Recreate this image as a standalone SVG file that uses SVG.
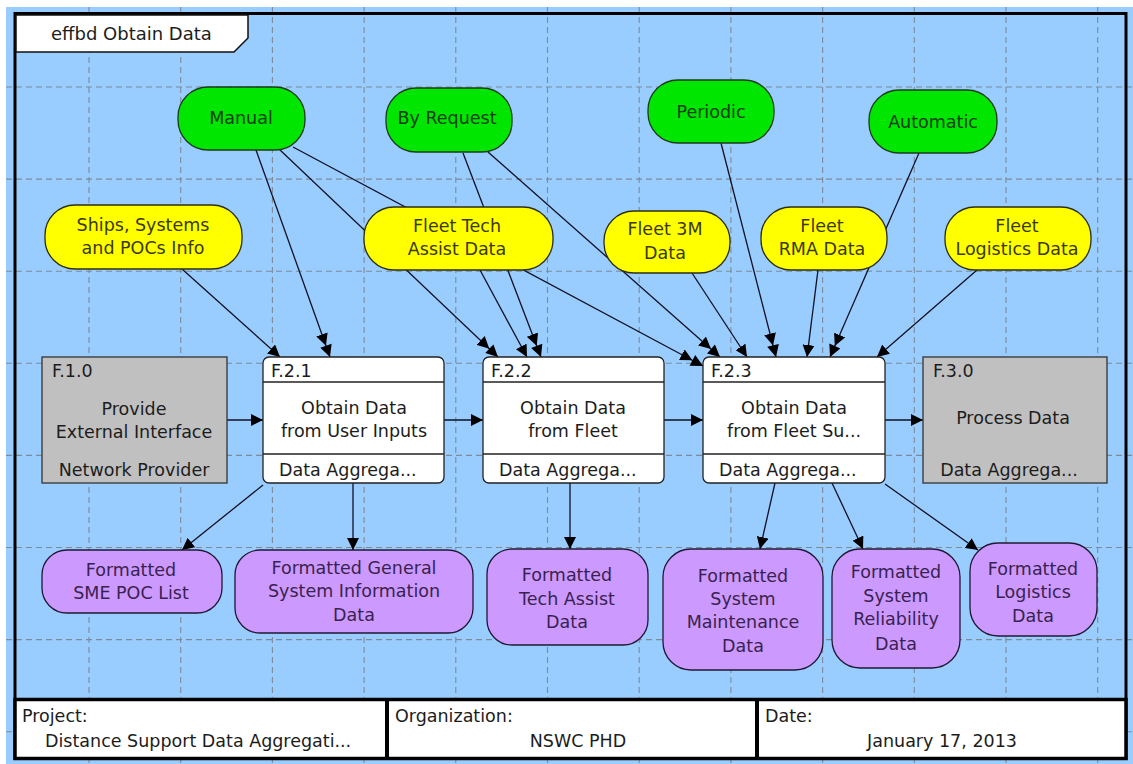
<svg xmlns="http://www.w3.org/2000/svg" width="1133" height="764" viewBox="0 0 1133 764">
  <style>
    .t { font-family: "DejaVu Sans", Verdana, sans-serif; font-size: 17.5px; }
    .c { text-anchor: middle; }
    .grid line { stroke: #7e8a98; stroke-width: 1.1; stroke-dasharray: 6 4; }
    .conn path { fill: none; stroke: #111122; stroke-width: 1.3; }
    .trig { marker-end: url(#dbl); }
    .flow { marker-end: url(#sgl); }
    .green rect { fill: #00e600; stroke: #1c3a1c; stroke-width: 1.3; }
    .green text { fill: #0b3d0b; }
    .yellow rect { fill: #ffff00; stroke: #2e2e10; stroke-width: 1.3; }
    .yellow text { fill: #3a3a00; }
    .purple rect { fill: #cc99ff; stroke: #221833; stroke-width: 1.3; }
    .purple text { fill: #3a2250; }
    .fn rect { fill: #ffffff; stroke: #222222; stroke-width: 1.3; }
    .fn line { stroke: #222222; stroke-width: 1.3; }
    .ext rect { fill: #c0c0c0; stroke: #333333; stroke-width: 1.3; }
    .fn text, .ext text, .cell text { fill: #1c1c1c; }
  </style>
  <defs>
    <marker id="sgl" viewBox="0 0 12 12" refX="12" refY="6" markerWidth="12" markerHeight="12" markerUnits="userSpaceOnUse" orient="auto">
      <path d="M0,0 L12,6 L0,12 Z" fill="#000000"/>
    </marker>
    <marker id="dbl" viewBox="0 0 24 12" refX="24" refY="6" markerWidth="24" markerHeight="12" markerUnits="userSpaceOnUse" orient="auto">
      <path d="M0,0 L12,6 L0,12 Z M12,0 L24,6 L12,12 Z" fill="#000000"/>
    </marker>
  </defs>

  <!-- page background -->
  <rect x="0" y="0" width="1133" height="764" fill="#ffffff"/>
  <rect x="6" y="7" width="1127" height="757" fill="#99ccff"/>

  <!-- layout grid -->
  <g class="grid">
    <line x1="89" y1="7" x2="89" y2="764"/>
    <line x1="180.7" y1="7" x2="180.7" y2="764"/>
    <line x1="272.4" y1="7" x2="272.4" y2="764"/>
    <line x1="364.1" y1="7" x2="364.1" y2="764"/>
    <line x1="455.8" y1="7" x2="455.8" y2="764"/>
    <line x1="547.5" y1="7" x2="547.5" y2="764"/>
    <line x1="639.2" y1="7" x2="639.2" y2="764"/>
    <line x1="730.9" y1="7" x2="730.9" y2="764"/>
    <line x1="822.6" y1="7" x2="822.6" y2="764"/>
    <line x1="914.3" y1="7" x2="914.3" y2="764"/>
    <line x1="1006" y1="7" x2="1006" y2="764"/>
    <line x1="1097.7" y1="7" x2="1097.7" y2="764"/>
    <line x1="6" y1="87" x2="1133" y2="87"/>
    <line x1="6" y1="179.1" x2="1133" y2="179.1"/>
    <line x1="6" y1="271.2" x2="1133" y2="271.2"/>
    <line x1="6" y1="363.3" x2="1133" y2="363.3"/>
    <line x1="6" y1="455.4" x2="1133" y2="455.4"/>
    <line x1="6" y1="547.5" x2="1133" y2="547.5"/>
    <line x1="6" y1="639.6" x2="1133" y2="639.6"/>
    <line x1="6" y1="731.7" x2="1133" y2="731.7"/>
  </g>

  <!-- diagram frame and title tab -->
  <rect x="15" y="13.5" width="1111" height="745" fill="none" stroke="#000000" stroke-width="3"/>
  <g id="title">
    <polygon points="16,15 248,15 248,38 234,52 16,52" fill="#ffffff" stroke="#111111" stroke-width="1.5"/>
    <text class="t" x="51" y="40" fill="#1c1c1c" style="font-size:18px">effbd Obtain Data</text>
  </g>

  <!-- connectors -->
  <g id="connectors" class="conn">
    <path class="flow" d="M227,420 L263,420"/>
    <path class="flow" d="M444,420 L483,420"/>
    <path class="flow" d="M664,420 L703,420"/>
    <path class="flow" d="M885,420 L923,420"/>
    <path class="flow" d="M182,269 L280,357"/>
    <path class="trig" d="M256,150 L330,357"/>
    <path class="trig" d="M279,149 L498,357"/>
    <path class="trig" d="M293,147 L703,366"/>
    <path class="trig" d="M463,153 L541,357"/>
    <path class="trig" d="M488,152 L720,357"/>
    <path class="flow" d="M480,270 L527,357"/>
    <path class="flow" d="M692,273 L747,357"/>
    <path class="trig" d="M721,143 L776,357"/>
    <path class="flow" d="M818,270 L807,357"/>
    <path class="trig" d="M919,153 L830,357"/>
    <path class="flow" d="M977,270 L877,357"/>
    <path class="flow" d="M263,485 L182,550"/>
    <path class="flow" d="M353,483 L353,550"/>
    <path class="flow" d="M570,483 L570,549"/>
    <path class="flow" d="M775,483 L760,549"/>
    <path class="flow" d="M832,483 L863,549"/>
    <path class="flow" d="M885,484 L978,550"/>
  </g>

  <!-- triggers -->
  <g id="manual" class="green">
    <rect x="178" y="87" width="127" height="63" rx="30"/>
    <text class="t c" x="241" y="124">Manual</text>
  </g>
  <g id="by-request" class="green">
    <rect x="386" y="88" width="126" height="64" rx="30"/>
    <text class="t c" x="447" y="124">By Request</text>
  </g>
  <g id="periodic" class="green">
    <rect x="648" y="80" width="126" height="63" rx="30"/>
    <text class="t c" x="711" y="118">Periodic</text>
  </g>
  <g id="automatic" class="green">
    <rect x="869" y="90" width="128" height="63" rx="30"/>
    <text class="t c" x="933" y="128">Automatic</text>
  </g>

  <!-- input items -->
  <g id="ships-info" class="yellow">
    <rect x="45" y="205" width="197" height="64" rx="30"/>
    <text class="t c" x="143" y="231">Ships, Systems</text>
    <text class="t c" x="143" y="254">and POCs Info</text>
  </g>
  <g id="fleet-tech" class="yellow">
    <rect x="364" y="207" width="189" height="63" rx="30"/>
    <text class="t c" x="457" y="232">Fleet Tech</text>
    <text class="t c" x="457" y="255">Assist Data</text>
  </g>
  <g id="fleet-3m" class="yellow">
    <rect x="604" y="211" width="126" height="62" rx="30"/>
    <text class="t c" x="665" y="235">Fleet 3M</text>
    <text class="t c" x="665" y="259">Data</text>
  </g>
  <g id="fleet-rma" class="yellow">
    <rect x="761" y="207" width="126" height="63" rx="30"/>
    <text class="t c" x="822" y="232">Fleet</text>
    <text class="t c" x="822" y="255">RMA Data</text>
  </g>
  <g id="fleet-logistics" class="yellow">
    <rect x="945" y="207" width="146" height="63" rx="30"/>
    <text class="t c" x="1017" y="232">Fleet</text>
    <text class="t c" x="1017" y="255">Logistics Data</text>
  </g>

  <!-- functions -->
  <g id="f-1-0" class="ext">
    <rect x="42" y="357" width="185" height="126"/>
    <text class="t" x="52" y="377">F.1.0</text>
    <text class="t c" x="134" y="415">Provide</text>
    <text class="t c" x="134" y="438">External Interface</text>
    <text class="t c" x="134" y="476">Network Provider</text>
  </g>
  <g id="f-2-1" class="fn">
    <rect x="263" y="357" width="181" height="126" rx="6"/>
    <line x1="263" y1="382" x2="444" y2="382"/>
    <line x1="263" y1="454" x2="444" y2="454"/>
    <text class="t" x="271" y="377">F.2.1</text>
    <text class="t c" x="354" y="414">Obtain Data</text>
    <text class="t c" x="354" y="437">from User Inputs</text>
    <text class="t" x="279" y="476">Data Aggrega...</text>
  </g>
  <g id="f-2-2" class="fn">
    <rect x="483" y="357" width="181" height="126" rx="6"/>
    <line x1="483" y1="382" x2="664" y2="382"/>
    <line x1="483" y1="454" x2="664" y2="454"/>
    <text class="t" x="491" y="377">F.2.2</text>
    <text class="t c" x="573" y="414">Obtain Data</text>
    <text class="t c" x="573" y="437">from Fleet</text>
    <text class="t" x="499" y="476">Data Aggrega...</text>
  </g>
  <g id="f-2-3" class="fn">
    <rect x="703" y="357" width="182" height="126" rx="6"/>
    <line x1="703" y1="382" x2="885" y2="382"/>
    <line x1="703" y1="454" x2="885" y2="454"/>
    <text class="t" x="711" y="377">F.2.3</text>
    <text class="t c" x="794" y="414">Obtain Data</text>
    <text class="t c" x="794" y="437">from Fleet Su...</text>
    <text class="t" x="719" y="476">Data Aggrega...</text>
  </g>
  <g id="f-3-0" class="ext">
    <rect x="923" y="357" width="184" height="126"/>
    <text class="t" x="933" y="377">F.3.0</text>
    <text class="t c" x="1013" y="424">Process Data</text>
    <text class="t c" x="1009" y="476">Data Aggrega...</text>
  </g>

  <!-- output items -->
  <g id="sme-poc-list" class="purple">
    <rect x="42" y="550" width="180" height="63" rx="25"/>
    <text class="t c" x="131" y="576">Formatted</text>
    <text class="t c" x="131" y="599">SME POC List</text>
  </g>
  <g id="general-info" class="purple">
    <rect x="235" y="550" width="238" height="83" rx="25"/>
    <text class="t c" x="354" y="574">Formatted General</text>
    <text class="t c" x="354" y="597">System Information</text>
    <text class="t c" x="354" y="621">Data</text>
  </g>
  <g id="tech-assist" class="purple">
    <rect x="487" y="549" width="161" height="96" rx="25"/>
    <text class="t c" x="567" y="581">Formatted</text>
    <text class="t c" x="567" y="605">Tech Assist</text>
    <text class="t c" x="567" y="628">Data</text>
  </g>
  <g id="maintenance" class="purple">
    <rect x="663" y="549" width="160" height="121" rx="28"/>
    <text class="t c" x="743" y="582">Formatted</text>
    <text class="t c" x="743" y="605">System</text>
    <text class="t c" x="743" y="628">Maintenance</text>
    <text class="t c" x="743" y="652">Data</text>
  </g>
  <g id="reliability" class="purple">
    <rect x="832" y="549" width="128" height="119" rx="28"/>
    <text class="t c" x="896" y="578">Formatted</text>
    <text class="t c" x="896" y="602">System</text>
    <text class="t c" x="896" y="625">Reliability</text>
    <text class="t c" x="896" y="650">Data</text>
  </g>
  <g id="logistics" class="purple">
    <rect x="970" y="543" width="127" height="93" rx="28"/>
    <text class="t c" x="1033" y="575">Formatted</text>
    <text class="t c" x="1033" y="598">Logistics</text>
    <text class="t c" x="1033" y="622">Data</text>
  </g>

  <!-- project information block -->
  <g id="info-block" class="cell">
    <rect x="15" y="699.5" width="1111" height="59" fill="#ffffff" stroke="#000000" stroke-width="3.5"/>
    <line x1="387" y1="699.5" x2="387" y2="758.5" stroke="#000000" stroke-width="4"/>
    <line x1="757" y1="699.5" x2="757" y2="758.5" stroke="#000000" stroke-width="4"/>
    <text class="t" x="22" y="722">Project:</text>
    <text class="t" x="45" y="747">Distance Support Data Aggregati...</text>
    <text class="t" x="395" y="722">Organization:</text>
    <text class="t c" x="578" y="747">NSWC PHD</text>
    <text class="t" x="765" y="722">Date:</text>
    <text class="t c" x="942" y="747">January 17, 2013</text>
  </g>
</svg>
